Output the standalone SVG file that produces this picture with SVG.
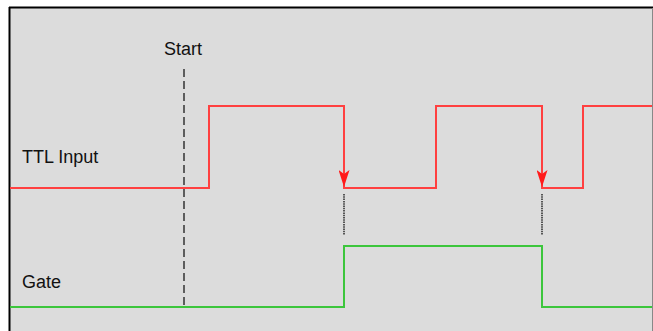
<svg xmlns="http://www.w3.org/2000/svg" width="653" height="331" viewBox="0 0 653 331">
<defs>
<style>
.lbl{font-family:"Liberation Sans",Arial,sans-serif;font-size:18px;fill:#111}
.red{fill:none;stroke:#ff4040;stroke-width:2}
.grn{fill:none;stroke:#3cc63c;stroke-width:2}
.mark{stroke:#555;stroke-width:2;stroke-dasharray:1.5,0.8}
</style>
<marker id="ad" markerWidth="11" markerHeight="17" refX="5.5" refY="17" orient="0" markerUnits="userSpaceOnUse" viewBox="0 0 11 17">
<path d="M0,0 L5.5,4 L11,0 L5.5,17 Z" fill="#ff1a1a"/>
</marker>
</defs>
<rect x="0" y="0" width="653" height="331" fill="#ffffff"/>
<rect x="10" y="8" width="642" height="323" fill="#dcdcdc"/>
<line x1="9" y1="7.5" x2="653" y2="7.5" stroke="#000" stroke-width="2"/>
<line x1="9.5" y1="7" x2="9.5" y2="331" stroke="#000" stroke-width="2"/>
<line x1="652.5" y1="8" x2="652.5" y2="331" stroke="#888" stroke-width="1"/>
<g id="start">
<text class="lbl" x="164" y="55">Start</text>
<line x1="184" y1="69" x2="184" y2="308" stroke="#333" stroke-width="1.5" stroke-dasharray="8,4"/>
</g>
<g id="ttl">
<text class="lbl" x="22" y="163">TTL Input</text>
<path class="red" d="M10,188 H209 V106 H344 V188 H436 V106 H542 V188 H583 V106 H652"/>
</g>
<g id="gate">
<text class="lbl" x="22" y="288">Gate</text>
<path class="grn" d="M10,307 H344 V246 H542 V307 H652"/>
</g>
<g id="connectors">
<line class="red" x1="344" y1="150" x2="344" y2="187" marker-end="url(#ad)"/>
<line class="red" x1="542" y1="150" x2="542" y2="187" marker-end="url(#ad)"/>
<line class="mark" x1="344" y1="194" x2="344" y2="235"/>
<line class="mark" x1="542" y1="194" x2="542" y2="235"/>
</g>
</svg>
